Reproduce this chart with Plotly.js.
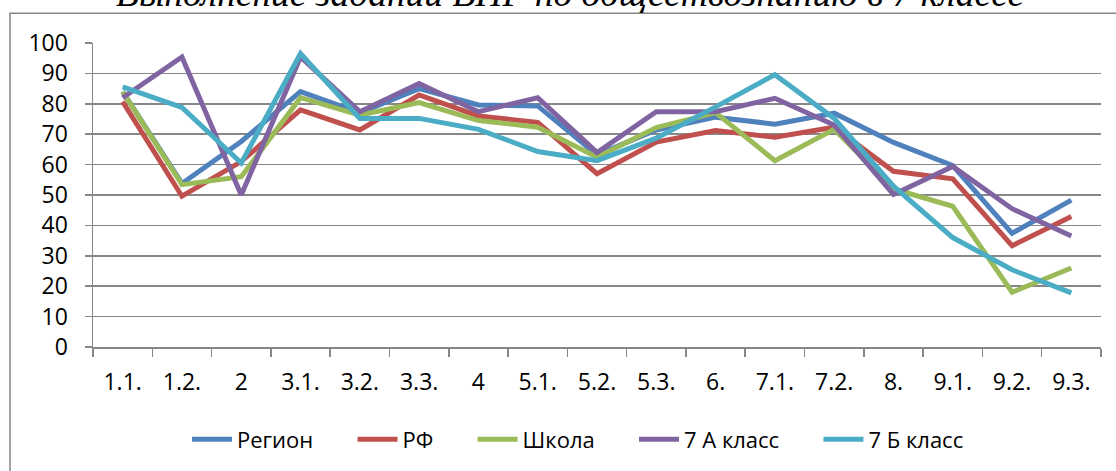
<!DOCTYPE html>
<html>
<head>
<meta charset="utf-8">
<script src="https://cdn.plot.ly/plotly-3.0.1.min.js"></script>
<style>html,body{margin:0;padding:0;background:#fff;}#chart{width:1116px;height:471px;}</style>
</head>
<body>
<div id="chart"></div>
<script>
const titleText = "Выполнение заданий ВПР по обществознанию в 7 классе";
const categories = ["1.1.","1.2.","2","3.1.","3.2.","3.3.","4","5.1.","5.2.","5.3.","6.","7.1.","7.2.","8.","9.1.","9.2.","9.3."];
const seriesNames = ["Регион","РФ","Школа","7 А класс","7 Б класс"];
const region = [84, 53.8, 67.6, 84, 77, 85, 79.6, 79.3, 63.2, 71.4, 75.6, 73.3, 76.9, 67.3, 59.7, 37.4, 48.3];
const rf = [80.7, 49.6, 61, 78, 71.4, 82.9, 76, 73.9, 57, 67.4, 71.2, 69, 72.3, 57.8, 55.3, 33.3, 42.9];
const school = [84, 53.4, 56, 82, 76.3, 80.4, 74.5, 72.3, 62.4, 72.2, 77.1, 61.3, 71.6, 52, 46.3, 18, 26];
const class7A = [82, 95.4, 50, 95.4, 77.4, 86.7, 77.4, 82, 64, 77.4, 77.4, 81.8, 73, 50.2, 59.4, 45.5, 36.5];
const class7B = [85.6, 78.8, 60.5, 96.5, 75.2, 75.2, 71.6, 64.3, 61.3, 68.7, 79, 89.6, 75.2, 52.9, 36, 25.4, 17.8];
const yTicks = [0,10,20,30,40,50,60,70,80,90,100];

const colors = ["#4F81BD","#C0504D","#9BBB59","#8064A2","#4BACC6"];
const allValues = [region, rf, school, class7A, class7B];
const pad = "\u00a0\u00a0\u00a0\u00a0\u00a0\u00a0";

const traces = allValues.map((vals, i) => ({
  type: "scatter",
  mode: "lines",
  x: categories,
  y: vals,
  name: seriesNames[i] + (i < allValues.length - 1 ? pad : ""),
  line: {color: colors[i], width: 5, shape: "linear"},
  hoverinfo: "x+y+name"
}));

const L = 93, R = 1101, T = 42.7, B = 348.3;
const W = 1116, H = 471;
const pw = R - L, ph = B - T;
const px = v => (v - L) / pw;
const py = v => (B - v) / ph;

const font = "'Open Sans', 'Noto Sans', sans-serif";
const layout = {
  width: W, height: H,
  margin: {l: L, r: W - R, t: T, b: H - B, pad: 0},
  paper_bgcolor: "#ffffff",
  plot_bgcolor: "#ffffff",
  showlegend: true,
  annotations: [{
    text: titleText,
    xref: "paper", yref: "paper",
    x: px(570), xanchor: "center",
    y: py(16), yanchor: "bottom",
    showarrow: false,
    font: {family: "'Liberation Serif', 'Times New Roman', serif", size: 37.5, color: "#000", style: "italic"}
  }],
  xaxis: {
    type: "category",
    range: [-0.5, categories.length - 0.5],
    showgrid: false,
    showline: true, linecolor: "#868686", linewidth: 1.5,
    ticks: "outside", tickson: "boundaries", ticklen: 8, tickcolor: "#868686", tickwidth: 1.5,
    tickfont: {family: font, size: 23, color: "#000"},
    ticklabelstandoff: 14,
    zeroline: false, fixedrange: true
  },
  yaxis: {
    range: [0, 100],
    tickvals: yTicks,
    ticktext: yTicks.map(String),
    showgrid: true, gridcolor: "#878787", gridwidth: 1.5,
    showline: true, linecolor: "#868686", linewidth: 1.5,
    ticks: "outside", ticklen: 7, tickcolor: "#868686", tickwidth: 1.5,
    tickfont: {family: font, size: 23, color: "#000"},
    ticklabelstandoff: 12,
    zeroline: false, fixedrange: true
  },
  legend: {
    orientation: "h",
    x: px(578), xanchor: "center",
    y: py(440), yanchor: "middle",
    font: {family: font, size: 22, color: "#000"},
    itemwidth: 40,
    traceorder: "normal",
    bgcolor: "rgba(0,0,0,0)"
  },
  shapes: [{
    type: "rect", xref: "paper", yref: "paper",
    x0: px(10), x1: px(1125), y0: py(490), y1: py(12.7),
    line: {color: "#868686", width: 1.5},
    fillcolor: "rgba(0,0,0,0)", layer: "below"
  }]
};

Plotly.newPlot("chart", traces, layout, {displayModeBar: false, staticPlot: true});
</script>
</body>
</html>
